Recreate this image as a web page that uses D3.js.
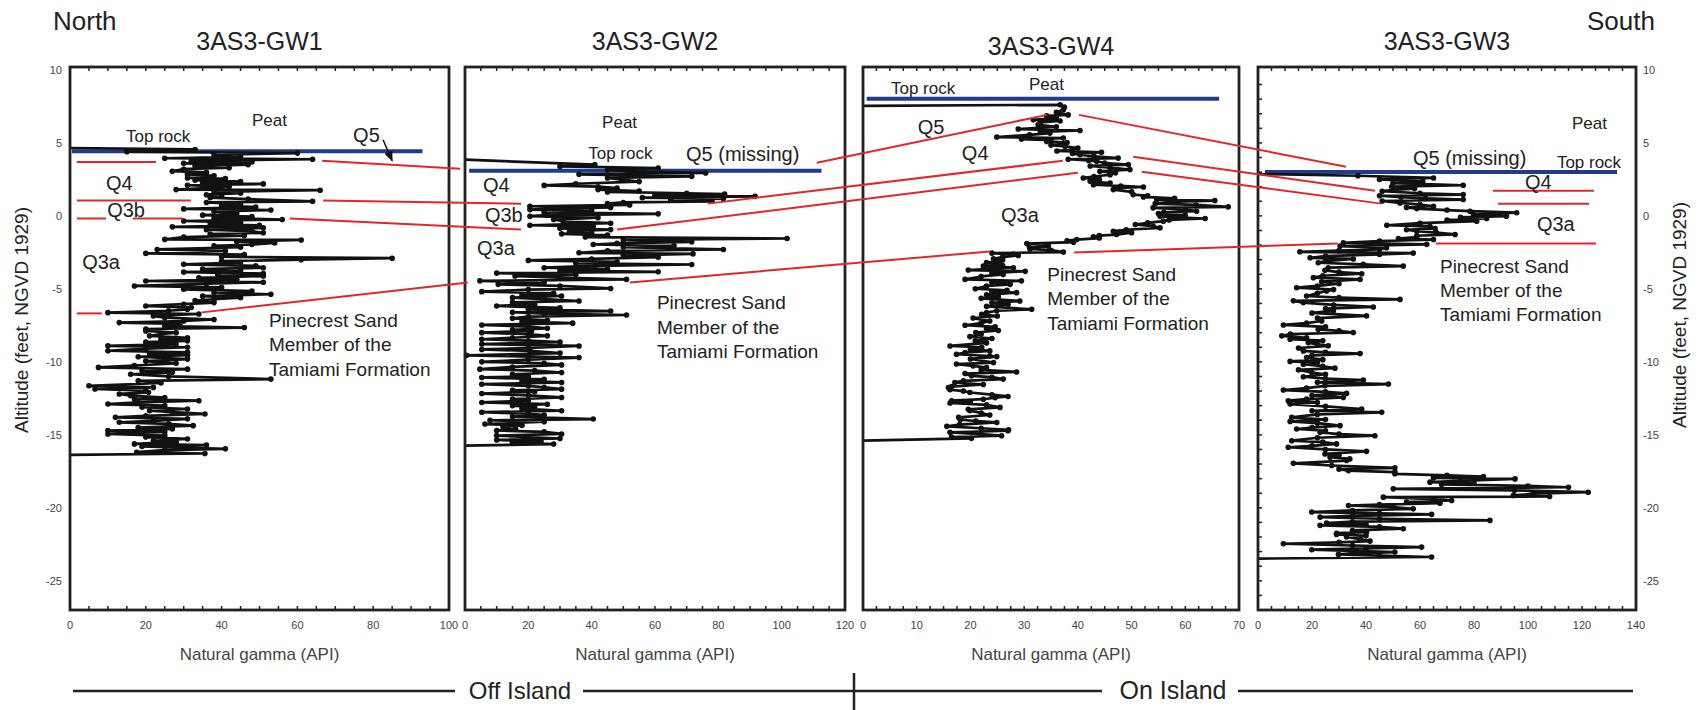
<!DOCTYPE html>
<html>
<head>
<meta charset="utf-8">
<script src="https://cdn.jsdelivr.net/npm/d3@7"></script>
<style>
  body { margin: 0; background: #fff; }
  svg text { font-family: "Liberation Sans", Arial, sans-serif; }
</style>
</head>
<body>
<svg id="chart" width="1703" height="710"></svg>
<script>
// ---- data ----
const wells = ["3AS3-GW1", "3AS3-GW2", "3AS3-GW4", "3AS3-GW3"];
const gammaMax = [100, 120, 70, 140];
const gammaLabelStep = [20, 20, 10, 20];
const gammaMinorStep = [5, 5, 2.5, 5];
const altTicks = [10, 5, 0, -5, -10, -15, -20, -25];

// [altitude (ft), natural gamma (API)]
const gw1 = [[4.65,0],[4.55,33],[4.4,15],[4.3,60],[4.2,38],[4.05,45],[3.95,25],[3.88,64],[3.78,32],[3.7,48],[3.6,30],[3.51,47],[3.4,33],[3.3,42],[3.2,30],[3.06,27],[2.98,36],[2.85,31],[2.75,38],[2.6,31],[2.55,41],[2.45,33],[2.35,45],[2.25,35],[2.19,51],[2.1,31],[2.0,42],[1.9,36],[1.8,28],[1.76,66],[1.65,38],[1.55,45],[1.45,36],[1.35,40],[1.25,37],[1.15,47],[1.0,64],[0.92,36],[0.82,45],[0.7,40],[0.6,49],[0.48,30],[0.4,53],[0.3,38],[0.16,44],[0.05,35],[-0.05,48],[-0.15,38],[-0.25,56],[-0.35,30],[-0.45,45],[-0.55,37],[-0.65,50],[-0.75,27],[-0.82,51],[-0.95,36],[-1.05,48],[-1.16,51],[-1.25,37],[-1.35,46],[-1.45,30],[-1.61,25],[-1.65,61],[-1.75,44],[-1.85,54],[-1.96,48],[-2.05,38],[-2.15,45],[-2.3,23],[-2.4,41],[-2.57,20],[-2.65,46],[-2.8,40],[-2.9,85],[-3.0,61],[-3.1,40],[-3.2,45],[-3.32,30],[-3.42,49],[-3.55,51],[-3.65,35],[-3.75,45],[-3.85,30],[-3.95,51],[-4.05,39],[-4.12,51],[-4.25,34],[-4.35,44],[-4.46,20],[-4.55,51],[-4.65,36],[-4.8,17],[-4.9,40],[-5.03,30],[-5.15,48],[-5.25,38],[-5.37,53],[-5.5,35],[-5.6,45],[-5.71,38],[-5.8,33],[-5.94,38],[-6.05,30],[-6.17,20],[-6.28,32],[-6.4,31],[-6.5,26],[-6.63,10],[-6.72,34],[-6.85,22],[-6.97,25],[-7.1,38],[-7.2,30],[-7.31,13],[-7.4,29],[-7.55,25],[-7.65,46],[-7.75,20],[-7.88,20],[-8.0,28],[-8.1,24],[-8.22,21],[-8.35,31],[-8.45,24],[-8.56,31],[-8.65,20],[-8.78,28],[-8.9,10],[-9.0,31],[-9.1,20],[-9.24,10],[-9.35,31],[-9.45,21],[-9.54,31],[-9.65,18],[-9.81,31],[-9.95,20],[-10.1,28],[-10.25,17],[-10.38,7.5],[-10.5,31],[-10.6,19],[-10.72,27],[-10.85,16],[-11.0,26],[-11.18,53],[-11.3,18],[-11.45,24],[-11.64,5],[-11.75,22],[-11.86,6.6],[-11.98,20],[-12.09,20.7],[-12.2,13],[-12.32,16],[-12.45,25],[-12.55,17],[-12.66,34],[-12.78,18],[-12.89,10],[-13.0,25],[-13.1,19],[-13.23,31],[-13.35,21],[-13.45,27],[-13.57,35.6],[-13.7,20],[-13.8,12],[-13.9,31],[-14.05,22],[-14.14,13],[-14.25,26],[-14.37,32.5],[-14.5,18],[-14.6,27],[-14.71,10],[-14.8,25],[-14.94,10],[-15.05,25],[-15.15,20],[-15.28,31],[-15.4,22],[-15.5,28],[-15.62,17],[-15.7,36],[-15.8,19],[-15.96,41],[-16.05,25],[-16.19,17.6],[-16.28,35.6],[-16.37,0]];

const gw2 = [[3.85,0],[3.51,41],[3.39,30],[3.28,61],[3.15,45],[3.05,52],[2.94,76],[2.85,36],[2.71,71.6],[2.6,45],[2.48,49.5],[2.35,55],[2.2,35],[2.09,25],[2.0,42],[1.9,48],[1.8,42],[1.7,55],[1.64,45],[1.55,70],[1.5,82],[1.42,60],[1.34,91.6],[1.25,56],[1.18,81.6],[1.1,65],[1.0,78],[0.92,50],[0.84,45],[0.75,52],[0.66,20.5],[0.58,46],[0.5,28],[0.43,20.5],[0.35,40],[0.25,25],[0.14,61],[0.05,26],[-0.02,20.5],[-0.12,42],[-0.25,28],[-0.37,31],[-0.5,46],[-0.64,20.5],[-0.72,40.5],[-0.85,30],[-0.94,46],[-1.05,33],[-1.15,40],[-1.23,30.5],[-1.32,45],[-1.45,38],[-1.55,101.7],[-1.65,50],[-1.78,71.6],[-1.88,48],[-1.96,40.5],[-2.05,66],[-2.15,50],[-2.3,81.6],[-2.4,45],[-2.53,36],[-2.6,72],[-2.7,50],[-2.83,61],[-2.95,40],[-3.05,20],[-3.15,48],[-3.25,35],[-3.33,71.6],[-3.42,41],[-3.55,25],[-3.65,45],[-3.75,30],[-3.83,61],[-3.92,10],[-4.02,35],[-4.12,15.8],[-4.22,30],[-4.35,51],[-4.45,4.7],[-4.55,25],[-4.69,10.5],[-4.8,30],[-4.97,46],[-5.05,20],[-5.19,5.3],[-5.3,28],[-5.4,18],[-5.49,30.5],[-5.6,15],[-5.7,25],[-5.83,36],[-5.92,15],[-6.05,22],[-6.17,10],[-6.3,30],[-6.4,20],[-6.52,46],[-6.6,15],[-6.7,25],[-6.79,51],[-6.9,20],[-7.02,15],[-7.15,26],[-7.25,18],[-7.35,34],[-7.47,5.3],[-7.58,20],[-7.7,26],[-7.8,15],[-7.88,21],[-8.0,5.3],[-8.1,20],[-8.22,26],[-8.35,15],[-8.45,5.3],[-8.55,20],[-8.65,30],[-8.78,5.3],[-8.91,36],[-9.05,20],[-9.15,5.3],[-9.25,20.5],[-9.4,30],[-9.55,0.5],[-9.71,36],[-9.85,20],[-10.0,5.3],[-10.1,25],[-10.21,30.5],[-10.35,15],[-10.5,4.7],[-10.6,22],[-10.73,30.5],[-10.85,15],[-11.0,20],[-11.07,5.3],[-11.2,25],[-11.3,18],[-11.41,30.5],[-11.53,5.3],[-11.65,20],[-11.75,25],[-11.87,30.5],[-11.95,15],[-12.05,22],[-12.17,5.3],[-12.3,20],[-12.44,30.5],[-12.55,15],[-12.65,20],[-12.78,5.3],[-12.9,26],[-13.0,15],[-13.1,22],[-13.2,18],[-13.35,30.5],[-13.45,5.3],[-13.55,20],[-13.65,25],[-13.75,15],[-13.92,40.5],[-14.0,7.9],[-14.1,25],[-14.26,6.3],[-14.35,18],[-14.45,12],[-14.6,16],[-14.7,10],[-14.8,25],[-14.94,30.5],[-15.05,10],[-15.15,20],[-15.25,30],[-15.35,10],[-15.45,24],[-15.55,15],[-15.63,28],[-15.74,0]];

const gw4 = [[7.54,0],[7.61,36.7],[7.45,37.5],[7.27,37.3],[7.1,36],[6.92,38.2],[6.85,34.2],[6.7,36],[6.58,31.7],[6.5,36.7],[6.4,33],[6.24,32.6],[6.1,36],[5.95,28.9],[5.85,40.4],[5.75,33],[5.67,34.8],[5.55,31],[5.4,24.9],[5.33,37.3],[5.26,29.5],[5.18,35],[5.1,34.2],[5.02,38],[4.94,36.7],[4.85,35],[4.76,37.6],[4.65,40],[4.53,38.9],[4.45,36.1],[4.35,44.4],[4.27,39],[4.19,40.4],[4.08,43],[3.96,47.5],[3.88,38.2],[3.8,42],[3.74,43.5],[3.62,45],[3.51,49.4],[3.42,42.3],[3.3,46],[3.17,49.7],[3.05,44.1],[2.95,47],[2.82,46],[2.7,43],[2.6,41],[2.5,44],[2.37,42.3],[2.25,46],[2.14,42.9],[2.05,48],[1.98,52.2],[1.9,47],[1.8,46.6],[1.65,50],[1.46,50.3],[1.38,53],[1.3,52.2],[1.2,58],[1.12,54.7],[1.05,65.5],[0.95,57],[0.84,54.4],[0.75,62],[0.62,68],[0.55,54],[0.45,60],[0.32,62.1],[0.25,56],[0.16,55],[0.05,60],[-0.02,55.3],[-0.1,58],[-0.18,63.7],[-0.28,57],[-0.36,55.9],[-0.48,53],[-0.59,50.7],[-0.7,54],[-0.82,55.3],[-0.95,49],[-1.05,46.6],[-1.15,50],[-1.28,47.2],[-1.35,44],[-1.43,42.9],[-1.52,44],[-1.62,39.8],[-1.7,38],[-1.8,39.2],[-1.9,30.5],[-2.0,34],[-2.07,34.5],[-2.17,31],[-2.26,31.1],[-2.35,35],[-2.48,37.3],[-2.55,24],[-2.63,28],[-2.71,28.9],[-2.82,26],[-2.94,24.3],[-3.02,26],[-3.1,25.5],[-3.2,23],[-3.33,24.9],[-3.4,26],[-3.44,22.4],[-3.55,28],[-3.71,19.6],[-3.8,30.2],[-3.9,24],[-4.01,26.1],[-4.15,22],[-4.35,19],[-4.45,29.5],[-4.55,24],[-4.69,27.4],[-4.8,23],[-4.99,20.9],[-5.1,26.8],[-5.2,24],[-5.26,28.6],[-5.4,23],[-5.54,25.2],[-5.65,22],[-5.83,29.2],[-5.95,24],[-6.06,27],[-6.2,23],[-6.4,31.4],[-6.5,24.9],[-6.63,23],[-6.75,22.1],[-6.86,25],[-7.0,20.5],[-7.2,23.6],[-7.35,22],[-7.49,19],[-7.6,24.6],[-7.72,23],[-7.85,25.2],[-7.99,21],[-8.1,22],[-8.27,19.9],[-8.4,24],[-8.56,20.9],[-8.7,23],[-8.91,16.2],[-9.0,22.1],[-9.13,20],[-9.25,23.6],[-9.37,19],[-9.48,17.4],[-9.6,23.6],[-9.64,24.9],[-9.8,20],[-10.05,24.3],[-10.15,17.4],[-10.28,20.5],[-10.39,23],[-10.55,22],[-10.69,28.6],[-10.8,19],[-10.96,20.2],[-11.05,24],[-11.18,26.1],[-11.3,18.7],[-11.41,17.1],[-11.55,22.4],[-11.7,16.5],[-11.76,15.9],[-11.91,16.2],[-12.0,18.7],[-12.1,19.9],[-12.25,24],[-12.37,27],[-12.45,24.6],[-12.56,22.4],[-12.66,16.5],[-12.75,20],[-12.82,16.2],[-12.95,23],[-13.12,25.5],[-13.25,19.6],[-13.35,19.9],[-13.5,22],[-13.64,23.6],[-13.8,17.8],[-13.96,18.1],[-14.05,21],[-14.15,24.9],[-14.3,18],[-14.42,15.6],[-14.55,22],[-14.65,27.1],[-14.72,27],[-14.83,16.2],[-14.95,22],[-15.06,25.8],[-15.15,16.5],[-15.24,20.2],[-15.4,0]];

const gw3 = [[2.87,0],[2.75,37],[2.6,65],[2.5,45],[2.37,61],[2.25,50],[2.1,76],[2.0,49.5],[1.87,58],[1.78,50],[1.69,46],[1.55,60],[1.46,76],[1.38,45],[1.28,53],[1.2,62],[1.12,76],[1.02,46],[0.89,52.6],[0.78,60],[0.66,65],[0.58,55],[0.5,58.8],[0.4,70],[0.32,78.5],[0.22,95.8],[0.09,79.8],[-0.02,92],[-0.1,75],[-0.18,84.7],[-0.28,70],[-0.36,81],[-0.5,60],[-0.64,47.7],[-0.72,63.7],[-0.86,65.6],[-0.95,55],[-1.05,58.8],[-1.15,66],[-1.27,73],[-1.36,58.8],[-1.46,58.8],[-1.55,52],[-1.62,65],[-1.72,45],[-1.84,31.6],[-1.95,62.5],[-2.07,30.4],[-2.18,47.6],[-2.3,45],[-2.38,30],[-2.46,15.5],[-2.55,57.5],[-2.64,45],[-2.75,25],[-2.87,19.3],[-2.95,35.3],[-3.1,25],[-3.21,22.3],[-3.32,39],[-3.44,53.8],[-3.55,26],[-3.73,24.8],[-3.85,30],[-3.96,38.4],[-4.1,24],[-4.23,20.5],[-4.35,37.8],[-4.51,23.6],[-4.65,30],[-4.8,22],[-4.92,14.3],[-5.05,28],[-5.15,25.4],[-5.3,22],[-5.49,18],[-5.6,30],[-5.72,52.6],[-5.82,13.1],[-5.94,16.8],[-6.1,28],[-6.24,42.7],[-6.35,25],[-6.51,27.9],[-6.65,20],[-6.85,40.2],[-7.0,22],[-7.2,23.6],[-7.35,18],[-7.47,9.4],[-7.6,25],[-7.77,22.3],[-7.88,30],[-7.99,35.3],[-8.1,12],[-8.22,8.8],[-8.35,18],[-8.45,11.9],[-8.55,24],[-8.68,18.6],[-8.8,22],[-8.9,26],[-9.05,15],[-9.25,16.8],[-9.35,25],[-9.43,37.8],[-9.55,20],[-9.7,18],[-9.85,24],[-9.97,11.9],[-10.05,22],[-10.16,16.8],[-10.3,24],[-10.43,28.5],[-10.55,15],[-10.73,19.9],[-10.85,25],[-11.02,16.8],[-11.15,25],[-11.25,39],[-11.4,22],[-11.52,48.3],[-11.64,24.8],[-11.8,18],[-11.93,9.4],[-12.05,25],[-12.16,32.8],[-12.3,20],[-12.44,31.6],[-12.55,18],[-12.66,11.2],[-12.78,22],[-12.89,11.9],[-13.05,25],[-13.23,38.4],[-13.35,20],[-13.46,45.8],[-13.6,22],[-13.8,12.5],[-13.95,25],[-14.08,11.9],[-14.2,22],[-14.37,30.4],[-14.5,20],[-14.6,14.3],[-14.72,25],[-14.83,23],[-14.95,30],[-15.06,43.3],[-15.2,22],[-15.4,12.5],[-15.5,24],[-15.62,29.1],[-15.75,20],[-15.85,11.2],[-16.0,25],[-16.13,40.2],[-16.31,24.8],[-16.42,30],[-16.53,26.7],[-16.65,34],[-16.76,32.8],[-16.95,13.1],[-17.1,27.3],[-17.26,50.7],[-17.35,30],[-17.45,33.5],[-17.55,50.7],[-17.67,50.7],[-17.78,70],[-17.86,83.5],[-17.95,65],[-18.02,95.2],[-18.15,75],[-18.24,63.7],[-18.32,80],[-18.4,68],[-18.5,100],[-18.59,115],[-18.7,50.1],[-18.8,95],[-18.93,122.3],[-19.03,102],[-19.15,94.6],[-19.22,108],[-19.27,46.4],[-19.4,65],[-19.5,71.7],[-19.6,55],[-19.68,67.4],[-19.78,45],[-19.84,33.5],[-19.95,50],[-20.07,57.5],[-20.18,35],[-20.29,19.9],[-20.38,45],[-20.45,64.3],[-20.55,35],[-20.64,23],[-20.75,45],[-20.86,85.9],[-20.95,35],[-21.05,25.4],[-21.12,40],[-21.2,23],[-21.3,45],[-21.43,53.8],[-21.55,35],[-21.66,40.2],[-21.74,29.1],[-21.82,29.1],[-21.92,40],[-22.0,32.8],[-22.15,38],[-22.28,41.5],[-22.37,30],[-22.46,9.4],[-22.58,35],[-22.69,60.6],[-22.78,40],[-22.87,19.9],[-22.95,35],[-23.03,50.7],[-23.12,35],[-23.19,29.8],[-23.28,45],[-23.37,64.3],[-23.48,0]];

const logs = [gw1, gw2, gw4, gw3];

// top of rock (blue): [panel, gamma from, gamma to, altitude]
const topRock = [[0, 0.5, 93, 4.42], [1, 1.3, 112.6, 3.1], [2, 0.7, 66.3, 8.02], [3, 2.6, 133, 3.0]];

// unit boundaries / correlations (red): endpoints as [panel, gamma, altitude]
const corrLines = [
  [[0, 1.8, 3.7], [0, 22.7, 3.7]],
  [[0, 66.5, 3.78], [0, 102.9, 3.23]],
  [[1, 111.1, 3.64], [2, 34.3, 6.92]],
  [[2, 40.2, 6.92], [3, 32.6, 3.37]],
  [[0, 1.8, 1.05], [0, 31.9, 1.05]],
  [[0, 66.8, 1.05], [1, 17.7, 0.84]],
  [[1, 76.7, 0.84], [2, 37.2, 3.78]],
  [[2, 50.3, 4.05], [3, 43.3, 1.73]],
  [[3, 87.0, 1.73], [3, 124.4, 1.73]],
  [[0, 1.8, -0.18], [0, 9.5, -0.18]],
  [[0, 16.6, -0.18], [0, 29.8, -0.18]],
  [[0, 58.0, -0.18], [1, 17.7, -0.94]],
  [[1, 48.0, -0.94], [2, 40.0, 2.96]],
  [[2, 51.9, 3.03], [3, 45.6, 0.84]],
  [[3, 88.9, 0.84], [3, 122.6, 0.84]],
  [[0, 1.8, -6.68], [0, 8.4, -6.68]],
  [[0, 34.8, -6.61], [1, 0.9, -4.56]],
  [[1, 52.1, -4.56], [2, 23.6, -2.44]],
  [[2, 39.3, -2.51], [3, 29.6, -1.89]],
  [[3, 65.9, -1.89], [3, 125.2, -1.89]]
];

// unit labels: [panel, gamma, altitude, text, font size]
const unitLabels = [
  [0, 48, 6.58, "Peat", 17], [0, 14.8, 5.49, "Top rock", 17], [0, 74.7, 5.56, "Q5", 20],
  [0, 9.5, 2.28, "Q4", 20], [0, 9.8, 0.43, "Q3b", 20], [0, 3.2, -3.19, "Q3a", 20],
  [1, 43.3, 6.45, "Peat", 17], [1, 38.9, 4.33, "Top rock", 17], [1, 69.8, 4.26, "Q5 (missing)", 20],
  [1, 5.7, 2.14, "Q4", 20], [1, 6.3, 0.09, "Q3b", 20], [1, 3.8, -2.17, "Q3a", 20],
  [2, 5.2, 8.77, "Top rock", 17], [2, 30.9, 9.04, "Peat", 17], [2, 10.2, 6.1, "Q5", 20],
  [2, 18.4, 4.33, "Q4", 20], [2, 25.7, 0.09, "Q3a", 20],
  [3, 116.3, 6.38, "Peat", 17], [3, 57.4, 3.98, "Q5 (missing)", 20], [3, 110.7, 3.71, "Top rock", 17],
  [3, 98.9, 2.34, "Q4", 20], [3, 103.3, -0.59, "Q3a", 20]
];
const formationText = ["Pinecrest Sand", "Member of the", "Tamiami Formation"];
// [panel, gamma, altitude of first line, line spacing (ft)]
const formationPos = [[0, 52.5, -7.16, 1.66], [1, 60.6, -5.93, 1.68], [2, 34.3, -4.01, 1.67], [3, 67.4, -3.47, 1.64]];

// ---- layout ----
const panelX = [[70, 449], [465, 845], [863, 1239], [1258, 1636]];
const plotTop = 67, plotBottom = 610;

const svg = d3.select("#chart");
const y = d3.scaleLinear().domain([-27, 10.2]).range([plotBottom, plotTop]);
const xs = panelX.map((r, i) => d3.scaleLinear().domain([0, gammaMax[i]]).range(r));

const px = p => xs[p[0]](p[1]);
const py = p => y(p[2]);

svg.append("defs").append("marker")
  .attr("id", "arrow").attr("viewBox", "0 0 10 10")
  .attr("refX", 9).attr("refY", 5)
  .attr("markerWidth", 7).attr("markerHeight", 7)
  .attr("orient", "auto")
  .append("path").attr("d", "M0,1 L10,5 L0,9 Z").attr("fill", "#111");

// panels
xs.forEach((x, i) => {
  const g = svg.append("g").attr("class", "panel");

  // title
  svg.append("text")
    .attr("x", (panelX[i][0] + panelX[i][1]) / 2)
    .attr("y", i === 2 ? 55 : 50)
    .attr("text-anchor", "middle")
    .attr("font-size", 25).attr("fill", "#222")
    .text(wells[i]);

  // blue top-of-rock line
  const tr = topRock.find(t => t[0] === i);
  g.append("line")
    .attr("x1", x(tr[1])).attr("x2", x(tr[2]))
    .attr("y1", y(tr[3])).attr("y2", y(tr[3]))
    .attr("stroke", "#1f3c8c").attr("stroke-width", 4);

  // gamma log
  const line = d3.line().x(d => x(d[1])).y(d => y(d[0]));
  g.append("path").datum(logs[i])
    .attr("d", line)
    .attr("fill", "none").attr("stroke", "#111")
    .attr("stroke-width", 2.7).attr("stroke-linejoin", "round");
  g.selectAll("circle").data(logs[i].slice(1, -1)).enter().append("circle")
    .attr("cx", d => x(d[1])).attr("cy", d => y(d[0]))
    .attr("r", 2.8).attr("fill", "#111");

  // frame
  g.append("rect")
    .attr("x", panelX[i][0]).attr("y", plotTop)
    .attr("width", panelX[i][1] - panelX[i][0]).attr("height", plotBottom - plotTop)
    .attr("fill", "none").attr("stroke", "#222").attr("stroke-width", 2.8);

  // minor ticks top and bottom (inward)
  const minor = d3.range(gammaMinorStep[i], gammaMax[i], gammaMinorStep[i]);
  g.selectAll(".tt").data(minor).enter().append("line")
    .attr("x1", d => x(d)).attr("x2", d => x(d))
    .attr("y1", plotTop).attr("y2", plotTop + 4)
    .attr("stroke", "#222").attr("stroke-width", 1.5);
  g.selectAll(".tb").data(minor).enter().append("line")
    .attr("x1", d => x(d)).attr("x2", d => x(d))
    .attr("y1", plotBottom).attr("y2", plotBottom - 4)
    .attr("stroke", "#222").attr("stroke-width", 1.5);

  // x tick labels
  const labels = d3.range(0, gammaMax[i] + 0.1, gammaLabelStep[i]);
  g.selectAll(".xl").data(labels).enter().append("text")
    .attr("x", d => x(d)).attr("y", 629)
    .attr("text-anchor", "middle").attr("font-size", 11).attr("fill", "#444")
    .text(d => d);

  g.append("text")
    .attr("x", (panelX[i][0] + panelX[i][1]) / 2).attr("y", 660)
    .attr("text-anchor", "middle").attr("font-size", 17).attr("fill", "#444")
    .text("Natural gamma (API)");
});

// left ticks on the GW3 panel (every foot)
svg.append("g").selectAll("line").data(d3.range(-26, 10, 1)).enter().append("line")
  .attr("x1", panelX[3][0]).attr("x2", panelX[3][0] + 4)
  .attr("y1", d => y(d)).attr("y2", d => y(d))
  .attr("stroke", "#222").attr("stroke-width", 1.5);

// correlation lines
svg.append("g").selectAll("line").data(corrLines).enter().append("line")
  .attr("x1", d => px(d[0])).attr("y1", d => py(d[0]))
  .attr("x2", d => px(d[1])).attr("y2", d => py(d[1]))
  .attr("stroke", "#e3262b").attr("stroke-width", 2);

// Q5 arrow in GW1
svg.append("line")
  .attr("x1", xs[0](82.6)).attr("y1", y(5.22))
  .attr("x2", xs[0](85)).attr("y2", y(3.78))
  .attr("stroke", "#111").attr("stroke-width", 1.5)
  .attr("marker-end", "url(#arrow)");

// unit labels
svg.append("g").selectAll("text").data(unitLabels).enter().append("text")
  .attr("x", d => xs[d[0]](d[1])).attr("y", d => y(d[2]))
  .attr("dy", "0.35em").attr("font-size", d => d[4]).attr("fill", "#222")
  .text(d => d[3]);

formationPos.forEach(f => {
  svg.append("g").selectAll("text").data(formationText).enter().append("text")
    .attr("x", xs[f[0]](f[1]))
    .attr("y", (d, k) => y(f[2] - k * f[3]))
    .attr("dy", "0.35em").attr("font-size", 19).attr("fill", "#222")
    .text(d => d);
});

// altitude axes
const yl = svg.append("g").attr("transform", `translate(${panelX[0][0]},0)`)
  .call(d3.axisLeft(y).tickValues(altTicks).tickSize(0).tickPadding(8).tickFormat(d => String(d)));
const yr = svg.append("g").attr("transform", `translate(${panelX[3][1]},0)`)
  .call(d3.axisRight(y).tickValues(altTicks).tickSize(0).tickPadding(7).tickFormat(d => String(d)));
[yl, yr].forEach(a => {
  a.select(".domain").remove();
  a.selectAll("text").attr("font-size", 11).attr("fill", "#444")
    .attr("font-family", "Liberation Sans, Arial, sans-serif");
});

svg.append("text")
  .attr("transform", "translate(28,320) rotate(-90)")
  .attr("text-anchor", "middle").attr("font-size", 19).attr("fill", "#222")
  .text("Altitude (feet, NGVD 1929)");
svg.append("text")
  .attr("transform", "translate(1686,315) rotate(-90)")
  .attr("text-anchor", "middle").attr("font-size", 19).attr("fill", "#222")
  .text("Altitude (feet, NGVD 1929)");

// compass words
svg.append("text").attr("x", 53).attr("y", 30).attr("font-size", 26).attr("fill", "#222").text("North");
svg.append("text").attr("x", 1587).attr("y", 30).attr("font-size", 26).attr("fill", "#222").text("South");

// island bar
const barY = 691;
[[73, 455], [583, 1102], [1238, 1633]].forEach(s => {
  svg.append("line").attr("x1", s[0]).attr("x2", s[1])
    .attr("y1", barY).attr("y2", barY)
    .attr("stroke", "#222").attr("stroke-width", 2.5);
});
svg.append("line").attr("x1", 854).attr("x2", 854).attr("y1", 673).attr("y2", 710)
  .attr("stroke", "#222").attr("stroke-width", 2.5);
svg.append("text").attr("x", 520).attr("y", 699).attr("text-anchor", "middle")
  .attr("font-size", 24).attr("fill", "#222").text("Off Island");
svg.append("text").attr("x", 1173).attr("y", 699).attr("text-anchor", "middle")
  .attr("font-size", 25).attr("fill", "#222").text("On Island");
</script>
</body>
</html>
